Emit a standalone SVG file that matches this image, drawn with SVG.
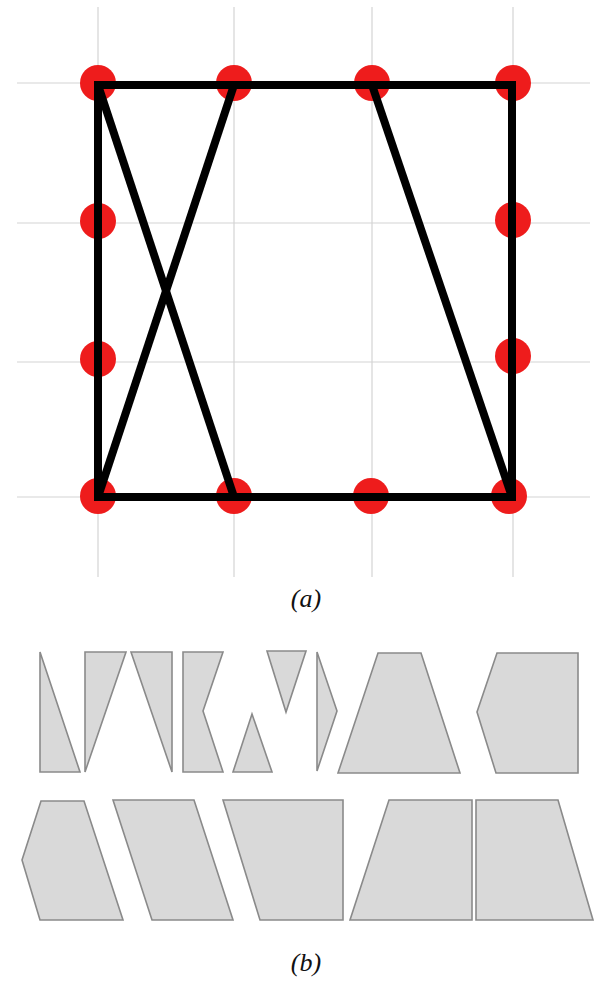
<svg xmlns="http://www.w3.org/2000/svg" width="594" height="981" viewBox="0 0 594 981">
<style>
.grid{stroke:#d4d4d4;stroke-width:1.2;fill:none}
.dot{fill:#ee1c1c}
.edge{stroke:#000;stroke-width:8;fill:none;stroke-linecap:butt;stroke-linejoin:miter}
.piece{fill:#d9d9d9;stroke:#8a8a8a;stroke-width:1.6;stroke-linejoin:miter}
.cap{font-family:"Liberation Serif","Times New Roman",serif;font-style:italic;font-size:26px;fill:#111;text-anchor:middle}
</style>
<rect width="594" height="981" fill="#fff"/>
<g id="grid">
<line class="grid" x1="98" y1="7" x2="98" y2="577"/>
<line class="grid" x1="234" y1="7" x2="234" y2="577"/>
<line class="grid" x1="372" y1="7" x2="372" y2="577"/>
<line class="grid" x1="513" y1="7" x2="513" y2="577"/>
<line class="grid" x1="17" y1="83" x2="590" y2="83"/>
<line class="grid" x1="17" y1="223" x2="590" y2="223"/>
<line class="grid" x1="17" y1="362" x2="590" y2="362"/>
<line class="grid" x1="17" y1="497" x2="590" y2="497"/>
</g>
<g id="dots">
<circle class="dot" cx="98" cy="83" r="18"/>
<circle class="dot" cx="234" cy="83" r="18"/>
<circle class="dot" cx="372" cy="83" r="18"/>
<circle class="dot" cx="513" cy="83" r="18"/>
<circle class="dot" cx="98" cy="221" r="18"/>
<circle class="dot" cx="98" cy="359" r="18"/>
<circle class="dot" cx="513" cy="220" r="18"/>
<circle class="dot" cx="513" cy="356" r="18"/>
<circle class="dot" cx="98" cy="496" r="18"/>
<circle class="dot" cx="234" cy="496" r="18"/>
<circle class="dot" cx="371" cy="496" r="18"/>
<circle class="dot" cx="509" cy="496" r="18"/>
</g>
<g id="connectors">
<rect class="edge" x="98" y="85" width="414" height="412"/>
<line class="edge" x1="98" y1="85" x2="234" y2="497"/>
<line class="edge" x1="98" y1="497" x2="234" y2="85"/>
<line class="edge" x1="372" y1="85" x2="512" y2="497"/>
</g>
<text id="label-a" class="cap" x="306" y="607">(a)</text>
<g id="pieces-row1">
<polygon id="p1" class="piece" points="40,652 80,772 40,772"/>
<polygon id="p2" class="piece" points="85,652 126,652 85,772"/>
<polygon id="p3" class="piece" points="131,652 172,652 172,772"/>
<polygon id="p4" class="piece" points="183,652 223,652 203,711 223,772 183,772"/>
<polygon id="p5" class="piece" points="267,651 306,651 286,712"/>
<polygon id="p6" class="piece" points="252,714 272,772 233,772"/>
<polygon id="p7" class="piece" points="317,652 337,711 317,771"/>
<polygon id="p8" class="piece" points="378,653 421,653 460,773 338,773"/>
<polygon id="p9" class="piece" points="497,653 578,653 578,773 496,773 477,712"/>
</g>
<g id="pieces-row2">
<polygon id="p10" class="piece" points="41,801 84,801 123,920 40,920 22,860"/>
<polygon id="p11" class="piece" points="113,800 194,800 233,920 152,920"/>
<polygon id="p12" class="piece" points="223,800 343,800 343,920 260,920"/>
<polygon id="p13" class="piece" points="389,800 472,800 472,920 350,920"/>
<polygon id="p14" class="piece" points="476,800 558,800 593,920 476,920"/>
</g>
<text id="label-b" class="cap" x="306" y="971">(b)</text>
</svg>
